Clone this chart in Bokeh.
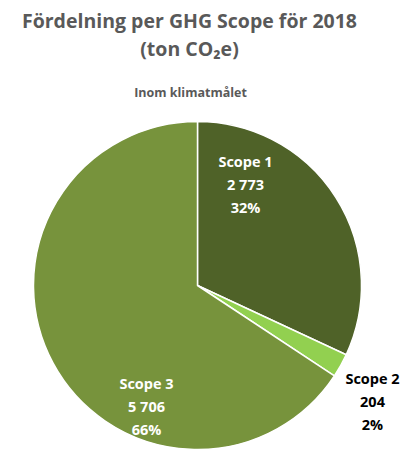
import numpy as np
from bokeh.plotting import figure
from bokeh.models import Range1d, ColumnDataSource
from bokeh.core.properties import value
from bokeh.embed import file_html
from bokeh.resources import INLINE

categories = ["Scope 1", "Scope 2", "Scope 3"]
values = [2773, 204, 5706]
value_labels = ["2 773", "204", "5 706"]
pct_labels = ["32%", "2%", "66%"]
colors = ["#4F6228", "#92D050", "#77933C"]
label_colors = ["white", "black", "white"]

W, H = 409, 452
p = figure(width=W, height=H, output_backend="svg", toolbar_location=None,
           x_range=Range1d(0, W), y_range=Range1d(0, H), min_border=0,
           outline_line_color=None)
p.axis.visible = False
p.grid.visible = False

cx, cy, r = 197, H - 285, 164
total = sum(values)
frac = np.array(values) / total
cum = np.concatenate([[0], np.cumsum(frac)])
start = np.pi / 2 - 2 * np.pi * cum[:-1]
end = np.pi / 2 - 2 * np.pi * cum[1:]
src = ColumnDataSource(dict(start=start, end=end, color=colors))
p.wedge(x=cx, y=cy, radius=r, start_angle="start", end_angle="end",
        direction="clock", fill_color="color", line_color="white",
        line_width=1.5, source=src)

# label anchor positions (layout)
lab_x = [245, 372, 146]
lab_y = [H - 161, H - 378, H - 383]
lines = []
for i, c in enumerate(categories):
    for j, t in enumerate([c, value_labels[i], pct_labels[i]]):
        lines.append((lab_x[i], lab_y[i] - j * 23.2, t, label_colors[i]))
ls = ColumnDataSource(dict(x=[l[0] for l in lines], y=[l[1] for l in lines],
                           t=[l[2] for l in lines], c=[l[3] for l in lines]))
p.text(x="x", y="y", text="t", text_color="c", source=ls,
       text_font=value("Open Sans"), text_font_style="bold",
       text_font_size="14.5px", text_align="center", text_baseline="middle")

p.text(x=[189, 189], y=[H - 20, H - 48],
       text=["Fördelning per GHG Scope för 2018", "(ton CO₂e)"],
       text_color="#595959", text_font=value("Open Sans"),
       text_font_style="bold", text_font_size="19.5px",
       text_align="center", text_baseline="middle")
p.text(x=[190], y=[H - 92], text=["Inom klimatmålet"], text_color="#595959",
       text_font=value("Open Sans"), text_font_style="bold",
       text_font_size="12.5px", text_align="center", text_baseline="middle")

open("out.html", "w").write(file_html(p, INLINE))
